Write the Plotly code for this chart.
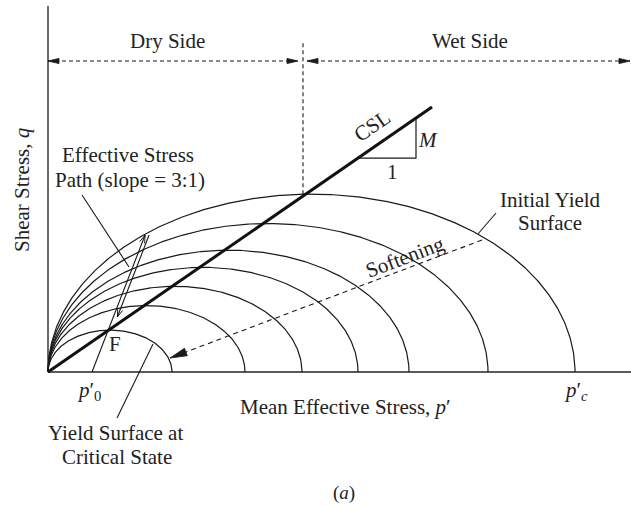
import numpy as np
import plotly.graph_objects as go

# ---------------- data (drawing units: p' and q share one scale) ----------------
pc_values = [124, 197, 254, 310, 361, 440, 527]   # p'c of successive yield surfaces
M_yield = 0.675                                   # ellipse aspect (Cam-clay M)
M_csl = 0.69                                      # slope of the critical state line
csl_p_end = 384                                   # CSL drawn up to this p'
tri_p = [310, 368]                                # slope triangle (run 1 : rise M)
p0 = 44                                           # p'0 on the axis
path_slope = 2.58                                 # stress path q/p ratio in drawing units
path_q_top = 137
path_q_return = 55
path_offset = 4
boundary_p = 255                                  # dry / wet boundary
side_q = 311                                      # level of the dry/wet arrows
axis_p_max = 583
axis_q_max = 366
dry_span = [0, 250]
wet_span = [259, 582]
soft_start = [434, 132]
soft_tip = [122, 14]

LINE = "#1a1a1a"
TXT = "#222222"
FONT = "Liberation Serif, Times New Roman, serif"

fig = go.Figure()


def add_line(xs, ys, width=1.2, color=LINE, dash=None, fill=None):
    fig.add_trace(go.Scatter(
        x=xs, y=ys, mode="lines",
        line=dict(width=width, color=color, dash=dash),
        fill=fill, fillcolor=color if fill else None,
        hoverinfo="skip", showlegend=False))


def head_points(tip, tail, length, half_w):
    tip = np.array(tip, float)
    tail = np.array(tail, float)
    u = (tip - tail) / np.linalg.norm(tip - tail)
    n = np.array([-u[1], u[0]])
    b1 = tip - length * u + half_w * n
    b2 = tip - length * u - half_w * n
    return b1, tip, b2


def filled_head(tip, tail, length=11, half_w=2.6, color=LINE):
    b1, t, b2 = head_points(tip, tail, length, half_w)
    add_line([b1[0], t[0], b2[0], b1[0]], [b1[1], t[1], b2[1], b1[1]],
             width=0.8, color=color, fill="toself")


def open_head(tip, tail, length=8, half_w=2.6):
    b1, t, b2 = head_points(tip, tail, length, half_w)
    add_line([b1[0], t[0], b2[0]], [b1[1], t[1], b2[1]], width=1.0)


def add_text(x, y, text, size=21, angle=0, xanchor="center"):
    fig.add_annotation(x=x, y=y, text=text, showarrow=False, textangle=angle,
                       xanchor=xanchor, yanchor="middle",
                       font=dict(family=FONT, size=size, color=TXT))


# axes
add_line([0, 0], [0, axis_q_max], width=1.6, color="#444444")
add_line([0, axis_p_max], [0, 0], width=2.2, color="#5a5a5a")

# yield surfaces
theta = np.linspace(0, np.pi, 400)
for pc in pc_values:
    p = pc / 2 * (1 - np.cos(theta))
    q = M_yield * pc / 2 * np.sin(theta)
    add_line(p, q, width=1.2)

# critical state line and slope triangle
add_line([0, csl_p_end], [0, M_csl * csl_p_end], width=3, color="#111111")
add_line([tri_p[0], tri_p[1], tri_p[1]],
         [M_csl * tri_p[0], M_csl * tri_p[0], M_csl * tri_p[1]], width=1.2)

# dry / wet boundary and arrows
pc_big = pc_values[-1]
q_boundary = M_yield * np.sqrt(boundary_p * (pc_big - boundary_p))
add_line([boundary_p, boundary_p], [q_boundary, 330], width=1.1, dash="4px,3px")
add_line(dry_span, [side_q, side_q], width=1.1, dash="4px,3px")
add_line(wet_span, [side_q, side_q], width=1.1, dash="4px,3px")
filled_head([dry_span[0], side_q], [dry_span[1], side_q])
filled_head([dry_span[1], side_q], [dry_span[0], side_q])
filled_head([wet_span[0], side_q], [wet_span[1], side_q])
filled_head([wet_span[1], side_q], [wet_span[0], side_q])

# softening arrow
add_line([soft_start[0], soft_tip[0]], [soft_start[1], soft_tip[1]], width=1.1, dash="5px,4px")
filled_head(soft_tip, soft_start, length=17, half_w=4)

# effective stress path (double line, up and back)
p_top = p0 + path_q_top / path_slope
add_line([p0, p_top], [0, path_q_top], width=1.1)
p_top2 = p_top + path_offset
p_ret = p0 + path_offset + path_q_return / path_slope
add_line([p_top2, p_ret], [path_q_top, path_q_return], width=1.1)
open_head([p_top, path_q_top], [p0, 0])
open_head([p_ret, path_q_return], [p_top2, path_q_top])

# leader lines
add_line([34, 81], [177, 105], width=1.1)
add_line([430, 448], [138, 159], width=1.1)
add_line([69, 105], [-46, 28], width=1.1)

# texts
add_text(119, 331, "Dry Side")
add_text(422, 331, "Wet Side")
add_text(324, 246, "CSL", angle=-34.6)
add_text(380, 232, "<i>M</i>")
add_text(344, 200, "1")
add_text(80, 217, "Effective Stress")
add_text(82, 192, "Path (slope = 3:1)")
add_text(502, 172, "Initial Yield")
add_text(502, 149, "Surface")
add_text(357, 115, "Softening", angle=-20.7)
add_text(67, 28, "F")
add_text(41, -19, "<i>p</i>′<sub>0</sub>")
add_text(528, -19, "<i>p</i>′<sub><i>c</i></sub>")
add_text(297, -35, "Mean Effective Stress, <i>p</i>′")
add_text(67, -61, "Yield Surface at")
add_text(69, -85, "Critical State")
add_text(-26, 182, "Shear Stress, <i>q</i>", angle=-90)
add_text(296, -121, "(<i>a</i>)", size=19)

fig.update_layout(
    width=631, height=506,
    margin=dict(l=0, r=0, t=0, b=0),
    paper_bgcolor="white", plot_bgcolor="white",
    xaxis=dict(visible=False, range=[-48, 583], fixedrange=True),
    yaxis=dict(visible=False, range=[-134, 372], fixedrange=True),
    showlegend=False,
)

fig.write_html("out.html")
